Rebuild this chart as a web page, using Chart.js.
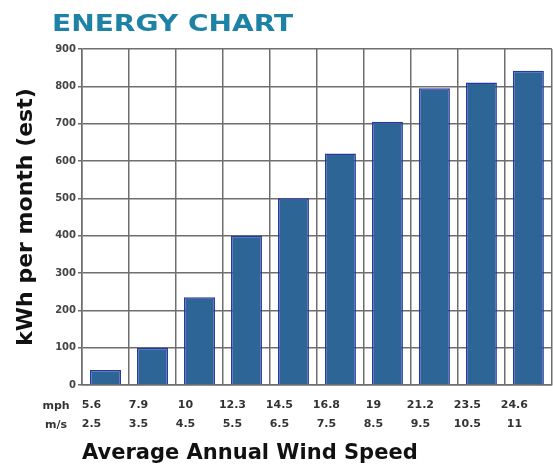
<!DOCTYPE html>
<html>
<head>
<meta charset="utf-8">
<script src="https://cdn.jsdelivr.net/npm/chart.js@4/dist/chart.umd.min.js"></script>
<style>
  html, body { margin: 0; padding: 0; background: #fff; }
  #wrap { width: 553px; height: 466px; position: relative; }
</style>
</head>
<body>
<div id="wrap"><canvas id="c" width="553" height="466"></canvas></div>
<script>
// Wind speed categories and estimated monthly output
const mphSpeeds = ['5.6', '7.9', '10', '12.3', '14.5', '16.8', '19', '21.2', '23.5', '24.6'];
const msSpeeds  = ['2.5', '3.5', '4.5', '5.5', '6.5', '7.5', '8.5', '9.5', '10.5', '11'];
const kwhPerMonth = [40, 100, 235, 400, 500, 620, 705, 795, 810, 842];
const unitRows = ['mph', 'm/s'];

const labels = mphSpeeds.map((m, i) => [m, msSpeeds[i]]);

// Heading (in a stretched heavy face) and unit row captions
const decorations = {
  id: 'decorations',
  afterDraw(chart) {
    const ctx = chart.ctx;
    const x = chart.scales.x;
    ctx.save();
    ctx.fillStyle = '#1e82a6';
    ctx.font = 'bold 23px "DejaVu Sans"';
    ctx.textBaseline = 'alphabetic';
    ctx.textAlign = 'left';
    ctx.translate(52, 31);
    ctx.scale(1.22, 1);
    ctx.fillText('ENERGY CHART', 0, 0);
    ctx.restore();

    ctx.save();
    ctx.fillStyle = '#333';
    ctx.font = 'bold 11px "DejaVu Sans"';
    ctx.textAlign = 'center';
    ctx.textBaseline = 'middle';
    unitRows.forEach((u, i) => ctx.fillText(u, 56, x.top + 21 + i * 19));
    ctx.restore();
  }
};

new Chart(document.getElementById('c'), {
  type: 'bar',
  data: {
    labels,
    datasets: [{
      data: kwhPerMonth,
      backgroundColor: '#2e6597',
      borderColor: '#2b36a6',
      borderWidth: 1.5,
      barPercentage: 0.66,
      categoryPercentage: 1
    }]
  },
  options: {
    responsive: false,
    animation: false,
    layout: { padding: { top: 49, right: 1, left: 0, bottom: 0 } },
    plugins: { legend: { display: false }, tooltip: { enabled: false } },
    scales: {
      x: {
        afterFit(s) { s.height = 81; },
        grid: { color: '#6e6e6e', lineWidth: 1.5, drawTicks: false },
        border: { color: '#6e6e6e', width: 1.5 },
        ticks: {
          color: '#333',
          font: { family: 'DejaVu Sans', size: 11, weight: 'bold', lineHeight: 1.72 },
          padding: 11,
          labelOffset: -14,
          maxRotation: 0,
          autoSkip: false
        },
        title: {
          display: true,
          text: 'Average Annual Wind Speed',
          align: 'start',
          color: '#111',
          font: { family: 'DejaVu Sans', size: 21, weight: 'bold' },
          padding: { top: 4, bottom: 0 }
        }
      },
      y: {
        min: 0,
        max: 900,
        afterFit(s) { s.width = 82; },
        grid: { color: '#6e6e6e', lineWidth: 1.5, tickLength: 4 },
        border: { color: '#6e6e6e', width: 1.5 },
        ticks: {
          stepSize: 100,
          color: '#444',
          font: { family: 'DejaVu Sans', size: 10, weight: 'bold' },
          padding: 2
        },
        title: {
          display: true,
          text: 'kWh per month (est)',
          color: '#111',
          font: { family: 'DejaVu Sans', size: 22, weight: 'bold' },
          padding: { top: 13, bottom: 0 }
        }
      }
    }
  },
  plugins: [decorations]
});
</script>
</body>
</html>
